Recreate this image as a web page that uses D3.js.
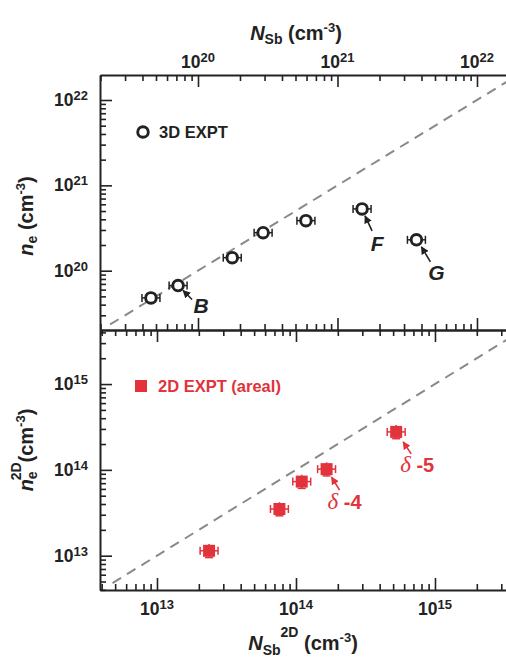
<!DOCTYPE html>
<html>
<head>
<meta charset="utf-8">
<script src="https://cdn.jsdelivr.net/npm/d3@7/dist/d3.min.js"></script>
<style>
  body { margin: 0; background: #fff; }
  text { font-family: "Liberation Sans", Arial, sans-serif; font-weight: bold; white-space: pre; }
</style>
</head>
<body>
<svg id="chart" width="506" height="660"></svg>
<script>
// 3D experiment: Sb density vs electron density (cm^-3)
const ne3dX = [4.6e19, 7.2e19, 1.76e20, 2.93e20, 5.94e20, 1.5e21, 3.68e21];
const ne3dY = [4.8e19, 6.7e19, 1.42e20, 2.79e20, 3.86e20, 5.3e20, 2.3e20];
const ne3dLabels = [{ i: 1, t: 'B' }, { i: 5, t: 'F' }, { i: 6, t: 'G' }];

// 2D (areal) experiment
const ne2dX = [2.37e13, 7.6e13, 1.1e14, 1.66e14, 5.26e14];
const ne2dY = [1.14e13, 3.5e13, 7.3e13, 1.02e14, 2.77e14];
const ne2dLabels = [{ i: 3, t: '-4' }, { i: 4, t: '-5' }];

const topTicks = [20, 21, 22];
const topYTicks = [20, 21, 22];
const botTicks = [13, 14, 15];
const botYTicks = [13, 14, 15];

const xErr = 1.16, yErr2d = 1.2;
const red = '#e2323c', ink = '#222';

let svg = d3.select('#chart');
let L = 100, R = 506, T = 75, M = 330, B = 590;

let xTop = d3.scaleLog().domain([10 ** 19.2975, 10 ** 22.208]).range([L, R]);
let yTop = d3.scaleLog().domain([10 ** 19.305, 10 ** 22.293]).range([M, T]);
let xBot = d3.scaleLog().domain([10 ** 12.59, 10 ** 15.511]).range([L, R]);
let yBot = d3.scaleLog().domain([10 ** 12.60, 10 ** 15.63]).range([B, M]);

function logTicks(scale, major) {
    let [a, b] = scale.domain();
    let out = [];
    for (let e = Math.floor(Math.log10(a)); e <= Math.ceil(Math.log10(b)); ++e) {
        for (let m = 1; m <= 9; ++m) {
            let v = m * 10 ** e;
            if (v >= a && v <= b && (m === 1) === major) out.push(v);
        }
    }
    return out;
}

// rich text with sub/superscripts
function rich(sel, parts) {
    let off = 0;
    parts.forEach(p => {
        let shift = p.shift || 0;
        let ts = sel.append('tspan').attr('dy', shift - off).text(p.t);
        if (p.size) ts.attr('font-size', p.size);
        if (p.italic) ts.attr('font-style', 'italic');
        off = shift;
    });
    return sel;
}

function drawAxis(axisFn, scale, tx, ty, len) {
    [[true, len], [false, len / 2]].forEach(([major, size]) => {
        let g = svg.append('g')
            .attr('transform', `translate(${tx},${ty})`)
            .call(axisFn(scale).tickValues(logTicks(scale, major)).tickFormat('')
                .tickSize(-size).tickSizeOuter(0));
        g.selectAll('.tick line').attr('stroke', ink).attr('stroke-width', 1.6);
        g.select('.domain').attr('stroke', ink).attr('stroke-width', major ? 2 : 0);
    });
}

drawAxis(d3.axisTop, xTop, 0, T, 12);
drawAxis(d3.axisBottom, xTop, 0, M, 12);
drawAxis(d3.axisLeft, yTop, L, 0, 12);
drawAxis(d3.axisTop, xBot, 0, M, 12);
drawAxis(d3.axisBottom, xBot, 0, B, 12);
drawAxis(d3.axisLeft, yBot, L, 0, 12);

// tick labels
function powLabel(x, y, e, anchor) {
    rich(svg.append('text').attr('x', x).attr('y', y).attr('text-anchor', anchor)
        .attr('font-size', 17.5).attr('fill', ink),
        [{ t: '10' }, { t: String(e), size: 13, shift: -6 }]);
}
topTicks.forEach(e => powLabel(xTop(10 ** e), 68, e, 'middle'));
botTicks.forEach(e => powLabel(xBot(10 ** e), 615, e, 'middle'));
topYTicks.forEach(e => powLabel(88, yTop(10 ** e) + 6, e, 'end'));
botYTicks.forEach(e => powLabel(88, yBot(10 ** e) + 6, e, 'end'));

// axis titles
rich(svg.append('text').attr('x', 296).attr('y', 40).attr('text-anchor', 'middle')
    .attr('font-size', 20).attr('fill', ink),
    [{ t: 'N', italic: true }, { t: 'Sb', size: 14, shift: 4 }, { t: ' (cm' }, { t: '-3', size: 13, shift: -8 }, { t: ')' }]);
rich(svg.append('text').attr('x', 303).attr('y', 650).attr('text-anchor', 'middle')
    .attr('font-size', 20).attr('fill', ink),
    [{ t: 'N', italic: true }, { t: 'Sb', size: 14, shift: 5 }, { t: '2D', size: 14, shift: -13 }, { t: ' (cm' }, { t: '-3', size: 13, shift: -8 }, { t: ')' }]);
rich(svg.append('text').attr('transform', 'translate(33,216) rotate(-90)').attr('text-anchor', 'middle')
    .attr('font-size', 20).attr('fill', ink),
    [{ t: 'n', italic: true }, { t: 'e', size: 14, shift: 4 }, { t: ' (cm' }, { t: '-3', size: 13, shift: -8 }, { t: ')' }]);
let t2 = rich(svg.append('text').attr('transform', 'translate(33,450) rotate(-90)').attr('text-anchor', 'middle')
    .attr('font-size', 20).attr('fill', ink),
    [{ t: 'n', italic: true }, { t: 'e', size: 14, shift: 4 }]);
t2.append('tspan').attr('dx', -9).attr('dy', -16).attr('font-size', 14).text('2D');
t2.append('tspan').attr('dy', 12).text('(cm');
t2.append('tspan').attr('dy', -8).attr('font-size', 13).text('-3');
t2.append('tspan').attr('dy', 8).text(')');

// y = x reference lines, clipped to each panel
let defs = svg.append('defs');
defs.append('clipPath').attr('id', 'clipTop').append('rect')
    .attr('x', L).attr('y', T).attr('width', R - L).attr('height', M - T);
defs.append('clipPath').attr('id', 'clipBot').append('rect')
    .attr('x', L).attr('y', M).attr('width', R - L).attr('height', B - M);
[['black', ink], ['red', red]].forEach(([id, c]) => {
    defs.append('marker').attr('id', 'arrow-' + id)
        .attr('viewBox', '0 0 10 10').attr('refX', 9).attr('refY', 5)
        .attr('markerWidth', 5).attr('markerHeight', 5).attr('orient', 'auto')
        .append('path').attr('d', 'M0,0L10,5L0,10z').attr('fill', c);
});

let dash = (xs, ys, clip, v0, v1) => svg.append('line')
    .attr('clip-path', `url(#${clip})`)
    .attr('x1', xs(v0)).attr('y1', ys(v0)).attr('x2', xs(v1)).attr('y2', ys(v1))
    .attr('stroke', '#8a8a84').attr('stroke-width', 2).attr('stroke-dasharray', '10,7');
dash(xTop, yTop, 'clipTop', 10 ** 19.37, 1e23);
dash(xBot, yBot, 'clipBot', 10 ** 12.68, 1e16);

// horizontal error bars
function errBar(g, x0, x1, y, c) {
    g.append('line').attr('x1', x0).attr('x2', x1).attr('y1', y).attr('y2', y)
        .attr('stroke', c).attr('stroke-width', 1.5);
    [x0, x1].forEach(x => g.append('line').attr('x1', x).attr('x2', x)
        .attr('y1', y - 4).attr('y2', y + 4).attr('stroke', c).attr('stroke-width', 1.5));
}

// 3D points
let gTop = svg.append('g');
ne3dX.forEach((v, i) => {
    let cx = xTop(v), cy = yTop(ne3dY[i]);
    errBar(gTop, xTop(v / xErr), xTop(v * xErr), cy, ink);
    gTop.append('circle').attr('cx', cx).attr('cy', cy).attr('r', 5.3)
        .attr('fill', '#fff').attr('stroke', ink).attr('stroke-width', 2.9);
});

// 2D points
let gBot = svg.append('g');
ne2dX.forEach((v, i) => {
    let cx = xBot(v), cy = yBot(ne2dY[i]);
    errBar(gBot, xBot(v / xErr), xBot(v * xErr), cy, red);
    gBot.append('line').attr('x1', cx).attr('x2', cx)
        .attr('y1', yBot(ne2dY[i] * yErr2d)).attr('y2', yBot(ne2dY[i] / yErr2d))
        .attr('stroke', red).attr('stroke-width', 1.5);
    gBot.append('line').attr('x1', cx - 4).attr('x2', cx + 4)
        .attr('y1', yBot(ne2dY[i] / yErr2d)).attr('y2', yBot(ne2dY[i] / yErr2d))
        .attr('stroke', red).attr('stroke-width', 1.5);
    gBot.append('rect').attr('x', cx - 6).attr('y', cy - 6).attr('width', 12).attr('height', 12)
        .attr('fill', red);
});

// annotations: [text dx, text dy, tail dx, tail dy, head dx, head dy]
const off3d = { B: [23, 27, 14, 14, 5, 5], F: [15, 42, 10, 22, 3, 7], G: [20, 40, 14, 22, 5, 7] };
ne3dLabels.forEach(d => {
    let cx = xTop(ne3dX[d.i]), cy = yTop(ne3dY[d.i]), o = off3d[d.t];
    svg.append('line').attr('x1', cx + o[2]).attr('y1', cy + o[3]).attr('x2', cx + o[4]).attr('y2', cy + o[5])
        .attr('stroke', ink).attr('stroke-width', 1.6).attr('marker-end', 'url(#arrow-black)');
    svg.append('text').attr('x', cx + o[0]).attr('y', cy + o[1]).attr('text-anchor', 'middle')
        .attr('font-size', 21).attr('font-style', 'italic').attr('fill', ink).text(d.t);
});
const off2d = { '-4': [1, 40, 13, 21, 5, 8], '-5': [4, 40, 15, 22, 7, 10] };
ne2dLabels.forEach(d => {
    let cx = xBot(ne2dX[d.i]), cy = yBot(ne2dY[d.i]), o = off2d[d.t];
    svg.append('line').attr('x1', cx + o[2]).attr('y1', cy + o[3]).attr('x2', cx + o[4]).attr('y2', cy + o[5])
        .attr('stroke', red).attr('stroke-width', 1.6).attr('marker-end', 'url(#arrow-red)');
    let t = svg.append('text').attr('x', cx + o[0]).attr('y', cy + o[1])
        .attr('font-size', 20).attr('fill', red);
    t.append('tspan').attr('font-family', '"Liberation Serif", serif').attr('font-weight', 'normal')
        .attr('font-style', 'italic').attr('font-size', 23).text('δ');
    t.append('tspan').text(' ' + d.t);
});

// legends
svg.append('circle').attr('cx', 143).attr('cy', 132).attr('r', 5.3)
    .attr('fill', '#fff').attr('stroke', ink).attr('stroke-width', 2.9);
svg.append('text').attr('x', 159).attr('y', 138).attr('font-size', 16.5).attr('fill', ink).text('3D EXPT');
svg.append('rect').attr('x', 135).attr('y', 380).attr('width', 12).attr('height', 12).attr('fill', red);
svg.append('text').attr('x', 158).attr('y', 392).attr('font-size', 16.5).attr('fill', red).text('2D EXPT (areal)');
</script>
</body>
</html>
